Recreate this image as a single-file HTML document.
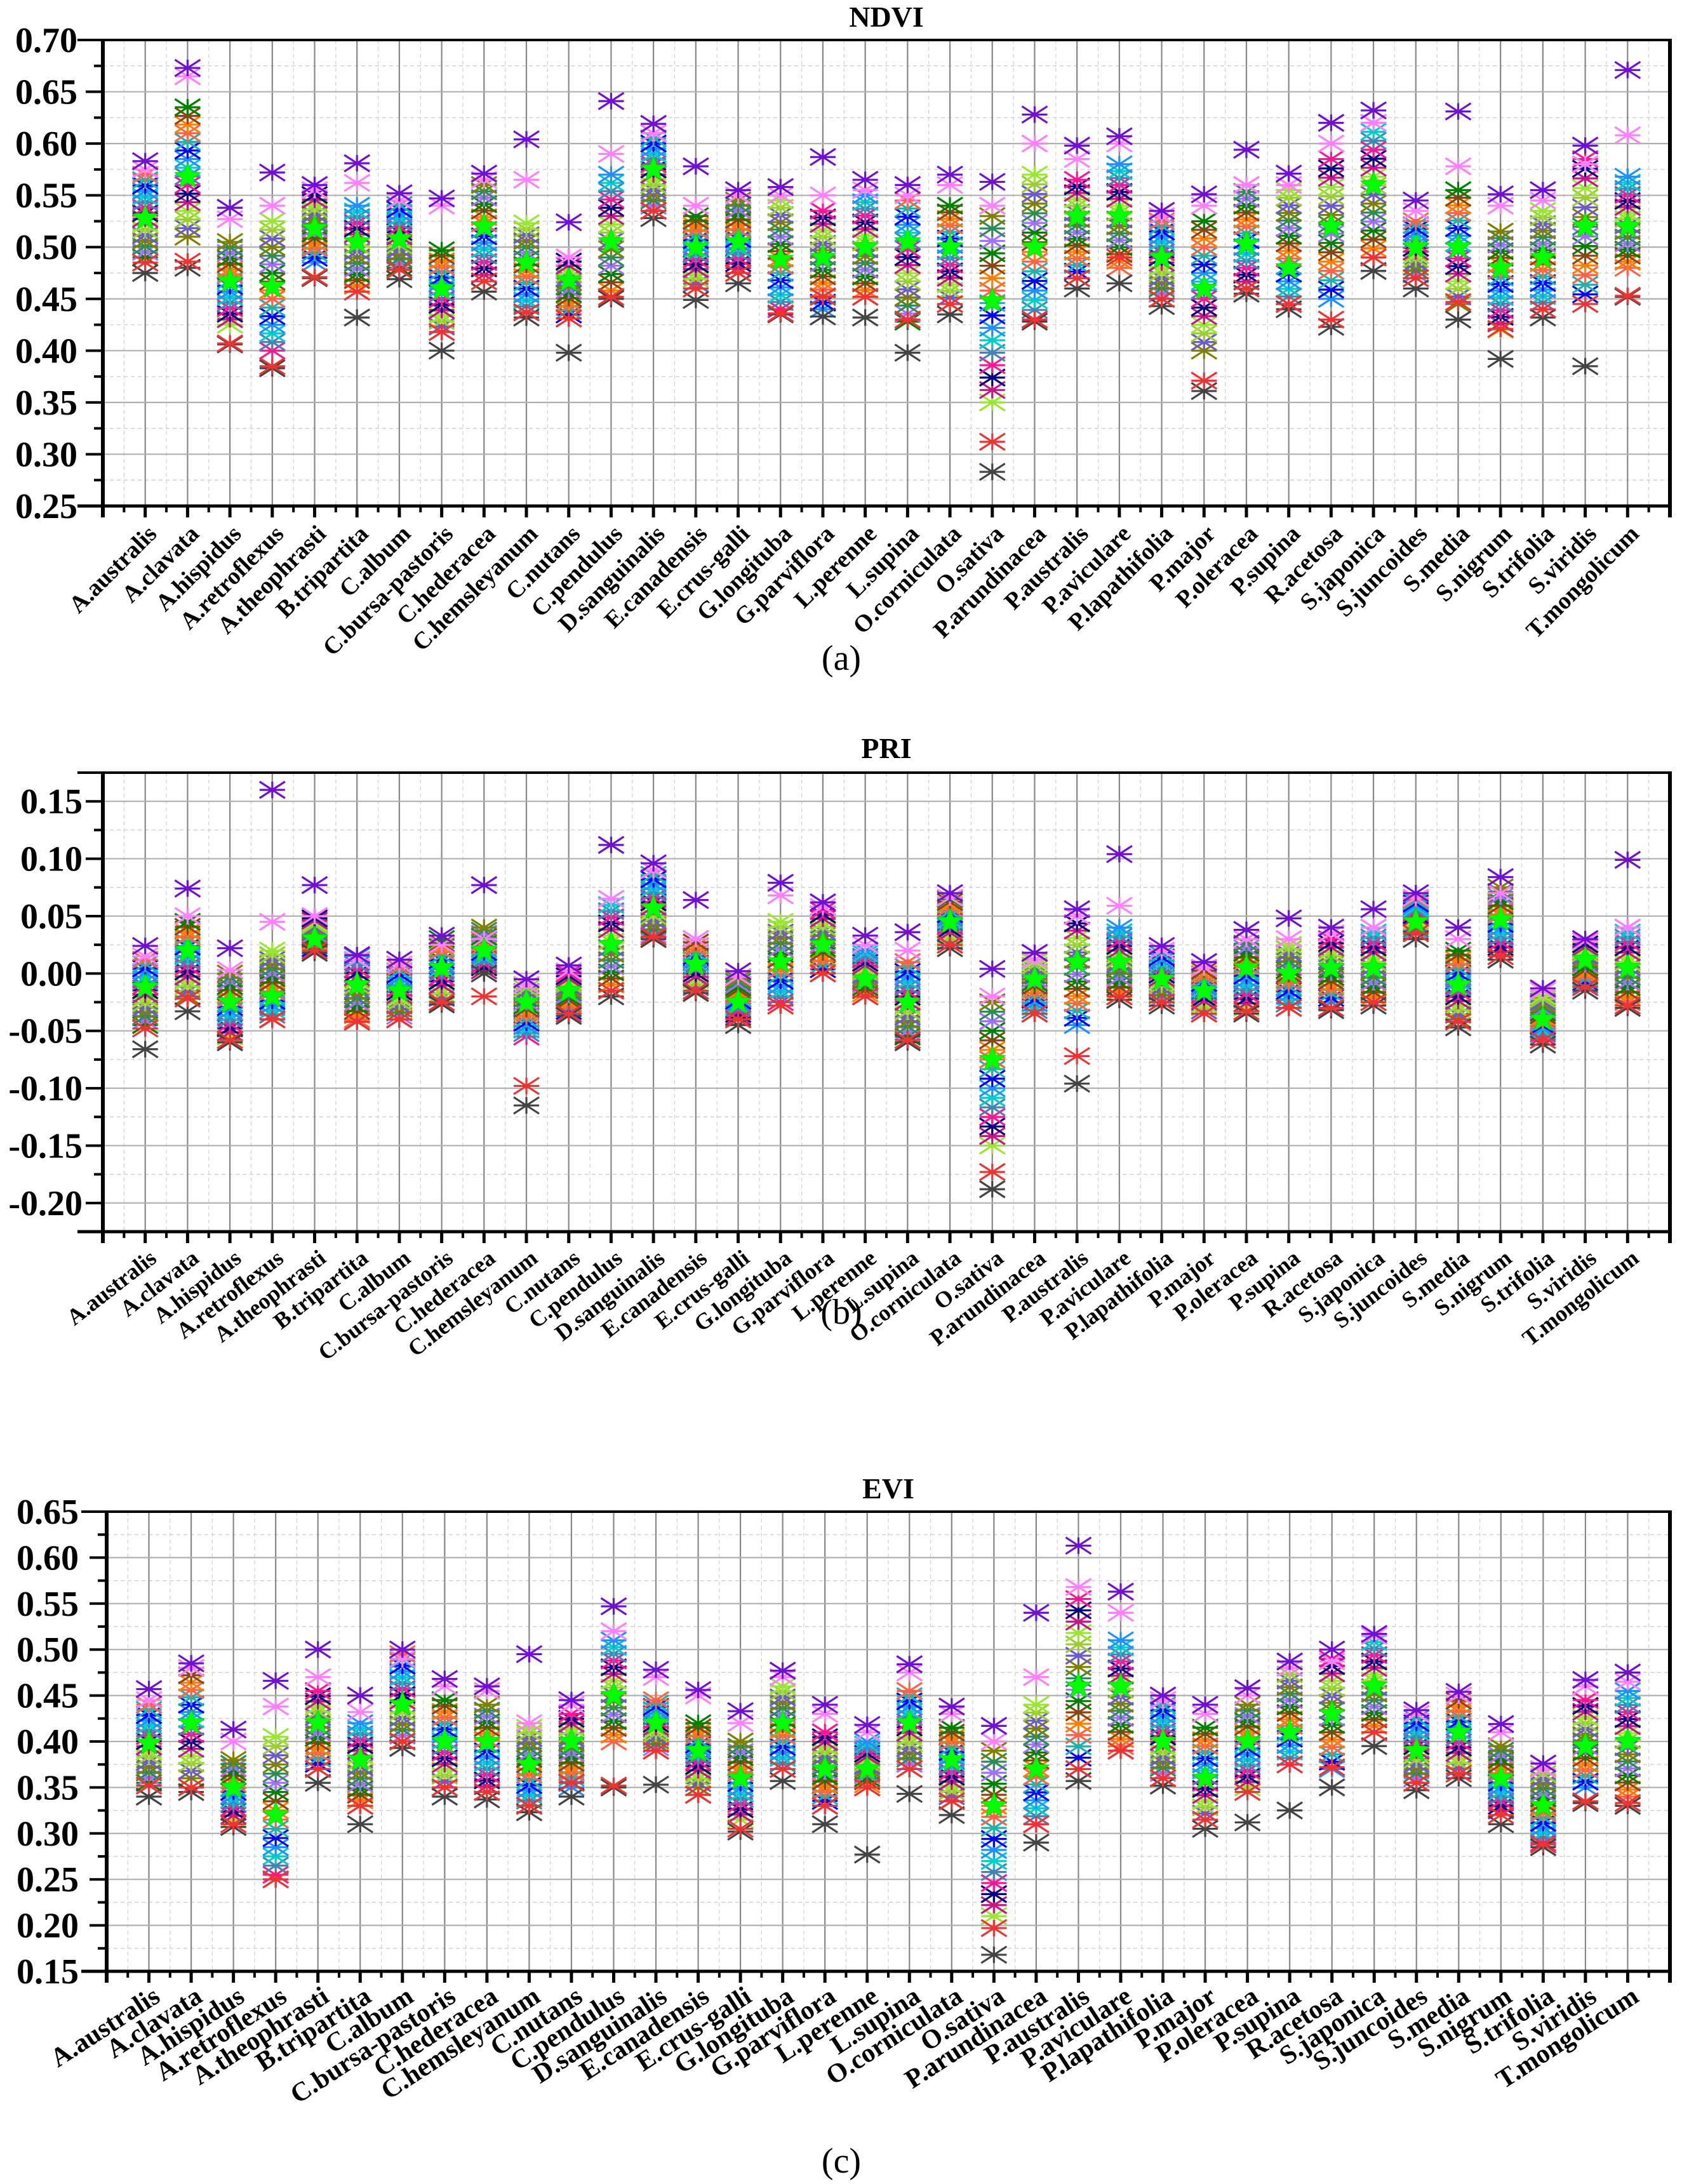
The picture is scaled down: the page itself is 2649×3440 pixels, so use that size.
<!DOCTYPE html>
<html><head><meta charset="utf-8"><style>
html,body{margin:0;padding:0;background:#fff;}
svg{display:block;}
</style></head><body>
<svg id="fig" width="2649" height="3440" viewBox="0 0 2649 3440" xmlns="http://www.w3.org/2000/svg" font-family="'Liberation Serif', 'DejaVu Serif', serif"></svg>
<script>
const categories=["A.australis","A.clavata","A.hispidus","A.retroflexus","A.theophrasti","B.tripartita","C.album","C.bursa-pastoris","C.hederacea","C.hemsleyanum","C.nutans","C.pendulus","D.sanguinalis","E.canadensis","E.crus-galli","G.longituba","G.parviflora","L.perenne","L.supina","O.corniculata","O.sativa","P.arundinacea","P.australis","P.aviculare","P.lapathifolia","P.major","P.oleracea","P.supina","R.acetosa","S.japonica","S.juncoides","S.media","S.nigrum","S.trifolia","S.viridis","T.mongolicum"];

// NDVI
const ndviTop=[.583,.673,.538,.572,.56,.581,.552,.547,.571,.604,.524,.641,.619,.578,.555,.558,.587,.565,.56,.57,.563,.628,.598,.607,.535,.551,.594,.571,.62,.632,.545,.631,.551,.555,.598,.671];
const ndviPink=[.575,.665,.527,.54,.555,.562,.545,.54,.565,.565,.49,.59,.61,.54,.55,.55,.55,.555,.55,.56,.54,.6,.585,.6,.53,.54,.56,.56,.6,.62,.535,.578,.54,.545,.58,.608];
const ndviHi=[.57,.635,.505,.525,.555,.54,.545,.497,.56,.523,.49,.57,.61,.53,.545,.545,.535,.55,.545,.54,.53,.57,.565,.58,.525,.525,.56,.555,.585,.62,.525,.555,.515,.535,.585,.568];
const ndviMean=[.528,.568,.467,.462,.518,.505,.508,.46,.52,.485,.468,.505,.575,.5,.505,.488,.49,.5,.505,.5,.448,.5,.53,.53,.49,.46,.503,.48,.52,.56,.5,.5,.48,.49,.52,.52];
const ndviLo=[.49,.51,.425,.40,.485,.457,.48,.418,.467,.437,.431,.45,.535,.46,.475,.44,.44,.452,.428,.445,.35,.43,.47,.48,.45,.40,.46,.445,.45,.49,.47,.445,.42,.44,.445,.48];
const ndviRed=[.485,.486,.407,.385,.471,.457,.478,.418,.467,.437,.431,.452,.535,.46,.475,.436,.452,.452,.43,.445,.312,.43,.47,.49,.45,.371,.46,.445,.43,.49,.47,.447,.421,.44,.445,.453];
const ndviBot=[.475,.48,.406,.383,.47,.432,.469,.40,.457,.432,.398,.45,.528,.449,.465,.435,.433,.432,.398,.435,.283,.428,.46,.465,.443,.361,.455,.44,.423,.477,.46,.43,.392,.432,.385,.452];

// PRI
const priTop=[.024,.074,.022,.16,.077,.016,.012,.033,.077,-.005,.007,.112,.096,.064,.002,.079,.062,.033,.036,.07,.004,.018,.056,.104,.024,.01,.038,.048,.04,.056,.07,.04,.084,-.013,.03,.099];
const priPink=[.015,.05,.003,.045,.05,.012,.008,.025,.03,-.01,.002,.065,.09,.03,-.003,.068,.058,.025,.02,.066,-.02,.012,.05,.059,.02,.005,.03,.03,.035,.04,.066,.03,.07,-.015,.028,.04];
const priHi=[.012,.045,.0,.02,.05,.015,.005,.03,.04,-.01,.0,.065,.09,.03,-.005,.045,.055,.02,.01,.065,-.025,.01,.05,.04,.02,.005,.03,.025,.03,.04,.065,.02,.075,-.02,.028,.04];
const priMean=[-.012,.02,-.025,-.02,.03,-.01,-.015,.005,.02,-.025,-.015,.025,.057,.008,-.025,.01,.025,-.005,-.025,.045,-.075,-.005,.01,.01,-.005,-.015,.005,.0,.005,.005,.045,-.01,.047,-.04,.012,.005];
const priLo=[-.045,-.02,-.055,-.04,.02,-.04,-.04,-.025,.0,-.055,-.035,-.015,.03,-.015,-.04,-.025,.0,-.02,-.055,.025,-.15,-.035,-.045,-.02,-.025,-.035,-.03,-.03,-.025,-.025,.035,-.04,.015,-.055,-.01,-.025];
const priRed=[-.048,-.022,-.058,-.04,.02,-.042,-.04,-.025,-.02,-.098,-.035,-.015,.032,-.015,-.04,-.028,.0,-.02,-.058,.025,-.173,-.035,-.072,-.02,-.025,-.035,-.033,-.03,-.03,-.025,.035,-.042,.015,-.058,-.012,-.028];
const priBot=[-.066,-.033,-.06,-.04,.018,-.042,-.04,-.027,.0,-.115,-.037,-.02,.03,-.017,-.045,-.028,.0,-.02,-.06,.022,-.188,-.035,-.096,-.023,-.028,-.035,-.035,-.03,-.032,-.028,.03,-.047,.012,-.062,-.015,-.03];

// EVI
const eviTop=[.457,.485,.413,.466,.5,.45,.5,.468,.46,.495,.445,.547,.478,.456,.433,.477,.44,.418,.484,.438,.417,.54,.613,.563,.45,.44,.458,.487,.5,.517,.434,.454,.419,.376,.467,.475];
const eviPink=[.445,.48,.4,.438,.47,.432,.49,.46,.455,.42,.44,.52,.47,.45,.42,.47,.43,.41,.475,.43,.4,.47,.568,.54,.445,.43,.45,.48,.487,.515,.43,.45,.41,.37,.46,.465];
const eviHi=[.44,.48,.38,.405,.455,.42,.495,.445,.44,.415,.43,.51,.445,.42,.40,.46,.41,.40,.455,.415,.39,.44,.555,.51,.445,.415,.44,.48,.49,.515,.43,.45,.395,.37,.445,.455];
const eviMean=[.398,.42,.35,.32,.42,.38,.44,.4,.4,.375,.4,.45,.42,.39,.36,.42,.37,.37,.42,.38,.33,.37,.46,.46,.4,.36,.4,.41,.43,.46,.39,.41,.36,.33,.395,.4];
const eviLo=[.355,.36,.315,.255,.37,.33,.4,.35,.345,.33,.35,.4,.39,.35,.315,.37,.33,.35,.37,.335,.21,.31,.37,.395,.36,.315,.35,.375,.37,.41,.355,.365,.32,.29,.35,.34];
const eviRed=[.352,.35,.31,.25,.37,.33,.4,.35,.345,.33,.355,.352,.39,.342,.305,.37,.33,.35,.37,.335,.197,.31,.37,.39,.36,.315,.345,.375,.372,.41,.355,.365,.32,.288,.335,.333];
const eviBot=[.34,.345,.307,.25,.355,.31,.393,.34,.337,.323,.34,.35,.353,.342,.302,.357,.31,.277,.343,.32,.168,.29,.357,.39,.352,.305,.312,.325,.35,.395,.347,.36,.31,.285,.333,.33];

const yTicksA=[.25,.30,.35,.40,.45,.50,.55,.60,.65,.70];
const yTicksB=[-.20,-.15,-.10,-.05,0,.05,.10,.15];
const yTicksC=[.15,.20,.25,.30,.35,.40,.45,.50,.55,.60,.65];

const NS="http://www.w3.org/2000/svg";
const svg=document.getElementById('fig');
const FONT="'Liberation Serif', 'DejaVu Serif', serif";
function mk(tag,attrs,parent){const e=document.createElementNS(NS,tag);for(const k in attrs)e.setAttribute(k,attrs[k]);(parent||svg).appendChild(e);return e;}

const clusterColors=["#008000","#0000ff","#000080","#808000","#ff8000","#00cccc","#99e633","#a070ff","#20b2aa","#ff1493","#6a5acd","#8b4513","#1e90ff","#c71585","#2e8b57","#ff6347","#4682b4","#9acd32"];

function drawAst(g,cx,cy,color){
  const w=20,h=13;
  const p=mk('path',{d:`M${cx-w},${cy-h}L${cx+w},${cy+h}M${cx-w},${cy+h}L${cx+w},${cy-h}M${cx},${cy-h}L${cx},${cy+h}M${cx-w},${cy}L${cx+w},${cy}`,stroke:color,'stroke-width':3.2,fill:'none'},g);
  
  
}
function drawStar(g,cx,cy){
  let d='';for(let i=0;i<10;i++){const r=i%2?9:21;const a=-Math.PI/2+i*Math.PI/5;d+=(i?'L':'M')+(cx+r*Math.cos(a)).toFixed(1)+','+(cy+r*Math.sin(a)).toFixed(1);}
  const p=mk('path',{d:d+'Z',fill:'#00ff00',stroke:'#00dd00','stroke-width':1},g);
  
  
}

function chart(cfg){
  const {name,x0,x1,top,bot,vmin,vmax,ticks,decimals,title,titleY,caption,capY,labelRight,angle,fs,S}=cfg;
  const n=categories.length;
  const xs=i=>x0+(i+1)*(x1-x0)/(n+1);
  const ys=v=>bot-(v-vmin)/(vmax-vmin)*(bot-top);
  const g=mk('g',{});
  
  
  const step=ticks[1]-ticks[0];
  for(let i=0;i<=n;i++){const x=(xs(i)+xs(i-1))/2;mk('line',{x1:x,x2:x,y1:top,y2:bot,stroke:'#d0d0d0','stroke-width':1.2,'stroke-dasharray':'6,5'},g);}
  ticks.forEach(t=>{const y=ys(t+step/2);if(y>top+2&&y<bot-2)mk('line',{x1:x0,x2:x1,y1:y,y2:y,stroke:'#d0d0d0','stroke-width':1.2,'stroke-dasharray':'6,5'},g);
    const y2=ys(t-step/2);if(y2>top+2&&y2<bot-2)mk('line',{x1:x0,x2:x1,y1:y2,y2:y2,stroke:'#d0d0d0','stroke-width':1.2,'stroke-dasharray':'6,5'},g);});
  categories.forEach((c,i)=>mk('line',{x1:xs(i),x2:xs(i),y1:top,y2:bot,stroke:'#888','stroke-width':2.2},g));
  ticks.forEach(t=>mk('line',{x1:x0,x2:x1,y1:ys(t),y2:ys(t),stroke:'#b0b0b0','stroke-width':2.2},g));
  const mg=mk('g',{},g);
  
  
  categories.forEach((c,i)=>{
    const cx=xs(i);
    const lo=S.lo[i],hi=S.hi[i];
    const m=16;
    for(let k=0;k<m;k++){const v=lo+(hi-lo)*k/(m-1);drawAst(mg,cx,ys(v),clusterColors[(k*7+i*3)%clusterColors.length]);}
    drawAst(mg,cx,ys(S.bot[i]),'#444444');
    drawAst(mg,cx,ys(S.red[i]),'#ee3333');
    drawAst(mg,cx,ys(S.pink[i]),'#ff80ff');
    drawAst(mg,cx,ys(S.top[i]),'#7010d0');
    drawStar(mg,cx,ys(S.mean[i]));
  });
  mk('line',{x1:x0-40,x2:x1,y1:top,y2:top,stroke:'#000','stroke-width':4},g);
  mk('line',{x1:x0-40,x2:x1+3,y1:bot,y2:bot,stroke:'#000','stroke-width':5},g);
  mk('line',{x1:x0,x2:x0,y1:top,y2:bot+18,stroke:'#000','stroke-width':6},g);
  mk('line',{x1:x1,x2:x1,y1:top-2,y2:bot+18,stroke:'#000','stroke-width':6},g);
  ticks.forEach(t=>{const y=ys(t);mk('line',{x1:x0-27,x2:x0,y1:y,y2:y,stroke:'#000','stroke-width':4},g);
    const ym=ys(t+step/2);if(ym>top+2&&ym<bot-2)mk('line',{x1:x0-14,x2:x0,y1:ym,y2:ym,stroke:'#000','stroke-width':4},g);
    const ym2=ys(t-step/2);if(ym2>top+2&&ym2<bot-2&&t===ticks[0])mk('line',{x1:x0-14,x2:x0,y1:ym2,y2:ym2,stroke:'#000','stroke-width':4},g);
    const tx=mk('text',{x:labelRight,y:y+19,'text-anchor':'end','font-size':56,'font-weight':'bold',fill:'#000','font-family':FONT},g);
    tx.textContent=t.toFixed(decimals);
    
    
  });
  for(let i=0;i<=n;i++){const xm=(xs(i)+xs(i-1))/2;mk('line',{x1:xm,x2:xm,y1:bot,y2:bot+10,stroke:'#000','stroke-width':4},g);}
  categories.forEach((c,i)=>{
    mk('line',{x1:xs(i),x2:xs(i),y1:bot,y2:bot+18,stroke:'#000','stroke-width':5},g);
    const tx=mk('text',{x:0,y:0,'text-anchor':'end','font-size':fs,'font-weight':'bold',fill:'#000','font-family':FONT,transform:`translate(${xs(i)+20},${bot+46}) rotate(-${angle})`},g);
    tx.textContent=c;
    
    
  });
  const tt=mk('text',{x:(x0+x1)/2,y:titleY,'text-anchor':'middle','font-size':46,'font-weight':'bold',fill:'#000','font-family':FONT},g);
  tt.textContent=title;
  
  
  const cp=mk('text',{x:1325,y:capY,'text-anchor':'middle','font-size':56,fill:'#000','font-family':FONT},g);
  cp.textContent=caption;
  
  
}

chart({name:'ndvi',x0:162,x1:2630,top:63,bot:797,vmin:.25,vmax:.70,ticks:yTicksA,decimals:2,title:'NDVI',titleY:42,caption:'(a)',capY:1055,labelRight:122,angle:45,fs:38,
  S:{top:ndviTop,pink:ndviPink,hi:ndviHi,mean:ndviMean,lo:ndviLo,red:ndviRed,bot:ndviBot}});
chart({name:'pri',x0:162,x1:2630,top:1217,bot:1940,vmin:-.225,vmax:.175,ticks:yTicksB,decimals:2,title:'PRI',titleY:1194,caption:'(b)',capY:2085,labelRight:130,angle:38,fs:36,
  S:{top:priTop,pink:priPink,hi:priHi,mean:priMean,lo:priLo,red:priRed,bot:priBot}});
chart({name:'evi',x0:168,x1:2630,top:2381,bot:3105,vmin:.15,vmax:.65,ticks:yTicksC,decimals:2,title:'EVI',titleY:2360,caption:'(c)',capY:3422,labelRight:124,angle:33,fs:42,
  S:{top:eviTop,pink:eviPink,hi:eviHi,mean:eviMean,lo:eviLo,red:eviRed,bot:eviBot}});
</script>
</body></html>
